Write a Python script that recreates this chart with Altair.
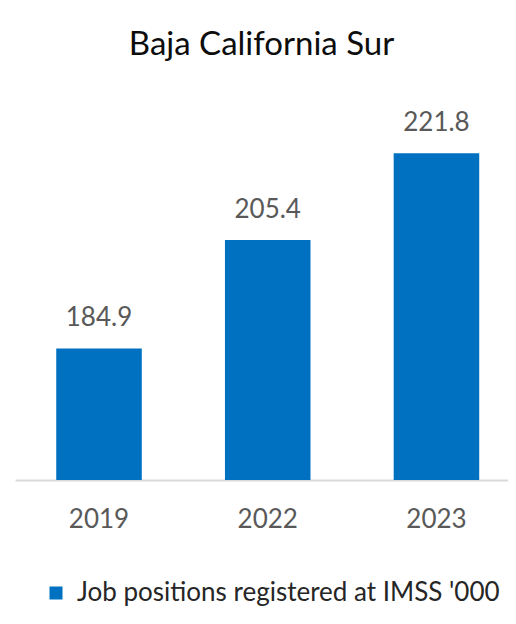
import altair as alt
import pandas as pd

years = ["2019", "2022", "2023"]
values = [184.9, 205.4, 221.8]
series_name = "Job positions registered at IMSS '000"
title_text = "Baja California Sur"

df = pd.DataFrame({"year": years, "value": values, "series": [series_name] * len(years)})

FONT = "Lato"
GRAY = "#595959"
BLUE = "#0070C0"

base = alt.Chart(df)

bars = base.mark_bar(color=BLUE).encode(
    x=alt.X(
        "year:N",
        sort=years,
        title=None,
        scale=alt.Scale(paddingInner=0.493, paddingOuter=0.2075, align=0.589),
        axis=alt.Axis(
            labelAngle=0,
            ticks=False,
            domainColor="#D9D9D9",
            domainWidth=2,
            labelFont=FONT,
            labelFontSize=26,
            labelColor=GRAY,
            labelBaseline="alphabetic",
            labelPadding=47,
        ),
    ),
    y=alt.Y("value:Q", scale=alt.Scale(domain=[160, 230], zero=False, nice=False), axis=None),
    y2=alt.datum(160),
    color=alt.Color(
        "series:N",
        scale=alt.Scale(range=[BLUE]),
        legend=alt.Legend(
            title=None,
            orient="none",
            legendX=28,
            legendY=470,
            symbolType="square",
            symbolSize=169,
            symbolStrokeWidth=0,
            labelFont=FONT,
            labelFontSize=26,
            labelColor="#262626",
            labelLimit=600,
            labelOffset=8,
        ),
    ),
)

labels = base.mark_text(
    font=FONT, fontSize=26, color=GRAY, baseline="alphabetic", dy=-22
).encode(
    x=alt.X("year:N", sort=years),
    y=alt.Y("value:Q"),
    text=alt.Text("value:Q", format=".1f"),
)

chart = (
    alt.layer(bars, labels)
    .properties(
        width=493,
        height=370,
        title=alt.TitleParams(
            title_text,
            font=FONT,
            fontSize=33,
            fontWeight="normal",
            color="#0D0D0D",
            anchor="middle",
            baseline="alphabetic",
            offset=22,
        ),
        padding={"left": 7, "top": 102, "right": 0, "bottom": 130},
        autosize=alt.AutoSizeParams(type="none"),
    )
    .configure_view(stroke=None)
)

chart.save("out.html", embed_options={"renderer": "svg", "actions": False})
